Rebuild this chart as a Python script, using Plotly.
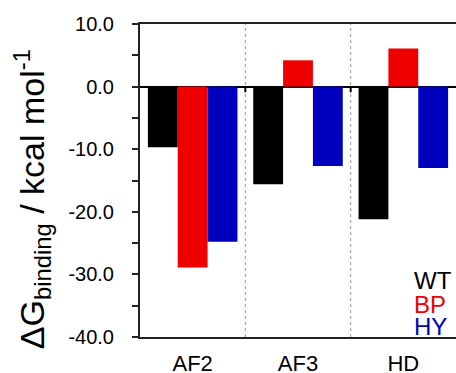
import plotly.graph_objects as go

# Binding free energies per domain and variant
categories = ["AF2", "AF3", "HD"]
wt = [-9.7, -15.6, -21.2]
bp = [-28.9, 4.2, 6.1]
hy = [-24.8, -12.7, -13.0]

series_names = ["WT", "BP", "HY"]
series_colors = ["#000000", "#EE0000", "#0000BE"]

y_tick_vals = [10, 0, -10, -20, -30, -40]
y_tick_text = ["10.0", "0.0", "-10.0", "-20.0", "-30.0", "-40.0"]

fig = go.Figure()
for name, vals, col in zip(series_names, [wt, bp, hy], series_colors):
    fig.add_trace(go.Bar(x=categories, y=vals, name=name,
                         marker=dict(color=col, line=dict(width=0))))

font_family = "Liberation Sans, Arial, sans-serif"

# dotted separators between domains and small ticks on the zero line
shapes = []
for b in [0.5, 1.5]:
    shapes.append(dict(type="line", xref="x", yref="y", x0=b, x1=b, y0=-40, y1=10,
                       line=dict(color="#999999", width=1, dash="dot"), layer="below"))
    shapes.append(dict(type="line", xref="x", yref="y", x0=b, x1=b, y0=0, y1=-0.9,
                       line=dict(color="#000000", width=2)))

# coloured legend text in the lower-right corner
annotations = []
legend_y = [0.18, 0.105, 0.033]
for name, col, ly in zip(series_names, series_colors, legend_y):
    annotations.append(dict(text=name, xref="paper", yref="paper", x=0.862,
                            y=ly, xanchor="left", yanchor="middle",
                            showarrow=False, font=dict(size=24, color=col, family=font_family)))

# rotated y-axis title
annotations.append(dict(text="ΔG<sub>binding</sub> / kcal mol<sup>-1</sup>",
                        xref="paper", yref="paper", x=-0.342, y=0.44,
                        xanchor="center", yanchor="middle", textangle=-90,
                        showarrow=False, font=dict(size=34, color="#000000", family=font_family)))

fig.update_layout(
    width=456, height=373,
    margin=dict(l=140, r=0, t=24, b=36, autoexpand=False),
    plot_bgcolor="white", paper_bgcolor="white",
    barmode="group", bargap=0.15, bargroupgap=0,
    showlegend=False,
    font=dict(family=font_family, color="#000000"),
    shapes=shapes, annotations=annotations,
    xaxis=dict(range=[-0.5, 2.5], showline=True, mirror=True, linecolor="#222222",
               linewidth=2, ticks="", tickfont=dict(size=22), showgrid=False,
               ticklabelstandoff=6, automargin=False),
    yaxis=dict(range=[-40, 10], tickvals=y_tick_vals, ticktext=y_tick_text,
               showline=True, linecolor="#222222", linewidth=2,
               ticks="outside", ticklen=6, tickwidth=1.5, tickcolor="#222222",
               minor=dict(ticks="outside", dtick=5, ticklen=6, tickwidth=1.5,
                          tickcolor="#222222", showgrid=False),
               tickfont=dict(size=20), showgrid=False, ticklabelstandoff=14,
               automargin=False,
               zeroline=True, zerolinecolor="#000000", zerolinewidth=2),
)

fig.write_html("out.html")
